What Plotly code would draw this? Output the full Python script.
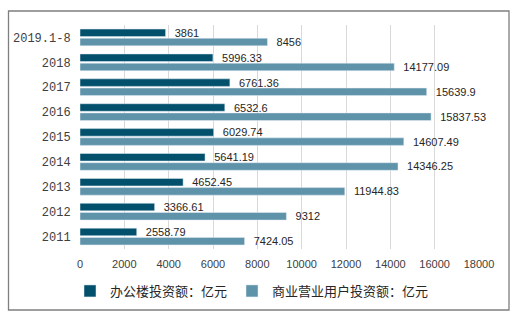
import plotly.graph_objects as go

categories = ["2011", "2012", "2013", "2014", "2015", "2016", "2017", "2018", "2019.1-8"]
office = [2558.79, 3366.61, 4652.45, 5641.19, 6029.74, 6532.6, 6761.36, 5996.33, 3861]
commercial = [7424.05, 9312, 11944.83, 14346.25, 14607.49, 15837.53, 15639.9, 14177.09, 8456]
office_labels = ["2558.79", "3366.61", "4652.45", "5641.19", "6029.74", "6532.6", "6761.36", "5996.33", "3861"]
commercial_labels = ["7424.05", "9312", "11944.83", "14346.25", "14607.49", "15837.53", "15639.9", "14177.09", "8456"]
x_ticks = [0, 2000, 4000, 6000, 8000, 10000, 12000, 14000, 16000, 18000]

W, H = 523, 325
L, R, T, B = 80, 44, 25, 76
pw, ph = W - L - R, H - T - B

fig = go.Figure()
fig.add_trace(go.Bar(
    y=categories, x=commercial, orientation="h", name="商业营业用户投资额：亿元",
    marker_color="#5E93A9", text=commercial_labels, texttemplate="\u00a0\u00a0%{text}",
    textposition="outside", constraintext="none",
    textfont=dict(size=11, color="#262626", family="Liberation Sans"), cliponaxis=False,
))
fig.add_trace(go.Bar(
    y=categories, x=office, orientation="h", name="办公楼投资额：亿元",
    marker_color="#02506B", text=office_labels, texttemplate="\u00a0\u00a0%{text}",
    textposition="outside", constraintext="none",
    textfont=dict(size=11, color="#262626", family="Liberation Sans"), cliponaxis=False,
))

def px_x(p):
    return (p - L) / pw

def px_y(p):
    return (T + ph - p) / ph

fig.update_layout(
    width=W, height=H,
    margin=dict(l=L, r=R, t=T, b=B),
    paper_bgcolor="white", plot_bgcolor="white",
    barmode="group", bargap=0.26, bargroupgap=0.18,
    showlegend=True,
    legend=dict(orientation="h", traceorder="reversed", x=px_x(70), xanchor="left",
                y=px_y(291), yanchor="middle",
                font=dict(size=13, color="#262626", family="Noto Sans CJK SC"),
                itemwidth=30),
    xaxis=dict(range=[0, 18000], tickvals=x_ticks, ticktext=[str(v) for v in x_ticks],
               showgrid=True, gridcolor="#D9D9D9", gridwidth=1, zeroline=False,
               showline=False, ticks="outside", ticklen=5, tickcolor="rgba(0,0,0,0)",
               tickfont=dict(size=11, color="#404040", family="Liberation Sans")),
    yaxis=dict(categoryorder="array", categoryarray=categories, showgrid=False,
               showline=False, ticks="outside", ticklen=6, tickcolor="rgba(0,0,0,0)", zeroline=False,
               tickfont=dict(size=12, color="#404040", family="Liberation Mono")),
    font=dict(family="Liberation Sans"),
    shapes=[dict(type="rect", xref="paper", yref="paper",
                 x0=px_x(8.5), x1=px_x(509), y0=px_y(310), y1=px_y(11),
                 line=dict(color="#7F7F7F", width=1.3), fillcolor="rgba(0,0,0,0)", layer="below")],
)

fig.write_html("out.html")
